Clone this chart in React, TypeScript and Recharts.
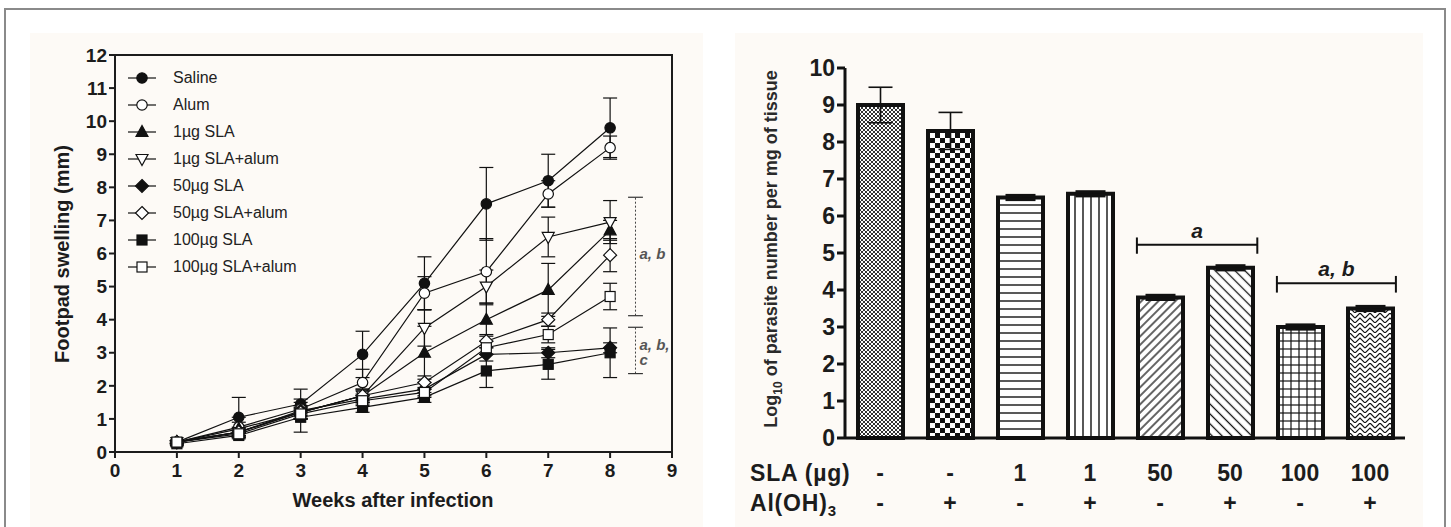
import React from 'react'
import {
  LineChart,
  Line,
  BarChart,
  Bar,
  XAxis,
  YAxis,
  ErrorBar,
  ReferenceArea,
  ReferenceLine,
  ReferenceDot,
  Cell,
} from 'recharts'

// Left panel: footpad swelling (mm) per week
const weeks = [1, 2, 3, 4, 5, 6, 7, 8]
const saline = [0.3, 1.05, 1.45, 2.95, 5.1, 7.5, 8.2, 9.8]
const salineErr = [0.05, 0.6, 0.45, 0.7, 0.8, 1.1, 0.8, 0.9]
const alum = [0.3, 0.75, 1.3, 2.1, 4.8, 5.45, 7.8, 9.2]
const alumErr = [0.05, 0.3, 0.3, 0.4, 0.5, 1.0, 0.4, 0.35]
const sla1 = [0.3, 0.7, 1.2, 1.7, 3.0, 4.0, 4.9, 6.7]
const sla1Err = [0.05, 0.2, 0.2, 0.2, 0.8, 0.5, 0.8, 0.3]
const sla1Alum = [0.3, 0.6, 1.2, 1.7, 3.75, 5.0, 6.5, 6.95]
const sla1AlumErr = [0.05, 0.15, 0.2, 0.2, 0.55, 0.5, 0.6, 0.65]
const sla50 = [0.3, 0.6, 1.25, 1.6, 1.9, 2.95, 3.0, 3.15]
const sla50Err = [0.05, 0.1, 0.1, 0.15, 0.2, 0.2, 0.15, 0.15]
const sla50Alum = [0.3, 0.6, 1.2, 1.7, 2.1, 3.35, 4.0, 5.95]
const sla50AlumErr = [0.05, 0.1, 0.1, 0.15, 0.2, 0.2, 0.2, 0.5]
const sla100 = [0.25, 0.5, 1.05, 1.35, 1.65, 2.45, 2.65, 3.0]
const sla100Err = [0.05, 0.1, 0.45, 0.15, 0.15, 0.5, 0.45, 0.75]
const sla100Alum = [0.3, 0.55, 1.15, 1.55, 1.8, 3.15, 3.55, 4.7]
const sla100AlumErr = [0.05, 0.1, 0.15, 0.15, 0.15, 0.2, 0.25, 0.4]

const weekTicks = [0, 1, 2, 3, 4, 5, 6, 7, 8, 9]
const swellingTicks = [0, 1, 2, 3, 4, 5, 6, 7, 8, 9, 10, 11, 12]

// significance brackets on the left panel (x = 8.41)
const sigX = 8.41
const sigBrackets = [
  { low: 4.12, high: 7.7 },
  { low: 2.37, high: 3.77 },
]
const sigLabels = [
  { y: 6.0, text: 'a, b' },
  { y: 3.25, text: 'a, b,' },
  { y: 2.78, text: 'c' },
]

// Right panel: parasite load
const slaDose = ['-', '-', '1', '1', '50', '50', '100', '100']
const alumFlag = ['-', '+', '-', '+', '-', '+', '-', '+']
const parasiteLog = [9.0, 8.3, 6.5, 6.6, 3.8, 4.6, 3.0, 3.5]
const parasiteErrBig = [0.48, 0.5, null, null, null, null, null, null]
const parasiteErrSmall = [null, null, 0.05, 0.05, 0.05, 0.05, 0.05, 0.05]
const parasiteTicks = [0, 1, 2, 3, 4, 5, 6, 7, 8, 9, 10]
const barBrackets = [
  { from: 4.17, to: 5.89, y: 5.22, capLow: 4.98, capHigh: 5.42, label: 'a' },
  { from: 6.17, to: 7.87, y: 4.18, capLow: 3.93, capHigh: 4.38, label: 'a, b' },
]

const FONT = '"Liberation Sans", Arial, sans-serif'
const INK = '#1c1c1c'

const series = [
  { key: 'saline', name: 'Saline', values: saline, errors: salineErr, shape: 'circle', filled: true },
  { key: 'alum', name: 'Alum', values: alum, errors: alumErr, shape: 'circle', filled: false },
  { key: 'sla1', name: '1µg SLA', values: sla1, errors: sla1Err, shape: 'up', filled: true },
  { key: 'sla1Alum', name: '1µg SLA+alum', values: sla1Alum, errors: sla1AlumErr, shape: 'down', filled: false },
  { key: 'sla50', name: '50µg SLA', values: sla50, errors: sla50Err, shape: 'diamond', filled: true },
  { key: 'sla50Alum', name: '50µg SLA+alum', values: sla50Alum, errors: sla50AlumErr, shape: 'diamond', filled: false },
  { key: 'sla100', name: '100µg SLA', values: sla100, errors: sla100Err, shape: 'square', filled: true },
  { key: 'sla100Alum', name: '100µg SLA+alum', values: sla100Alum, errors: sla100AlumErr, shape: 'square', filled: false },
]

const swellingData = weeks.map((week, i) => {
  const row: Record<string, number> = { week }
  series.forEach((s) => {
    row[s.key] = s.values[i]
    row[s.key + 'Err'] = s.errors[i]
  })
  return row
})

const parasiteData = parasiteLog.map((value, i) => ({
  id: i,
  pos: i + 0.5,
  value,
  errBig: parasiteErrBig[i],
  errSmall: parasiteErrSmall[i],
}))

function Marker({ cx, cy, shape, filled }: { cx: number; cy: number; shape: string; filled: boolean }) {
  const fill = filled ? '#111' : '#fff'
  const common = { fill, stroke: '#111', strokeWidth: 1.2 }
  if (shape === 'circle') return <circle cx={cx} cy={cy} r={5.2} {...common} />
  if (shape === 'square') return <rect x={cx - 5} y={cy - 5} width={10} height={10} {...common} />
  if (shape === 'up')
    return <polygon points={`${cx},${cy - 6.5} ${cx - 6},${cy + 4.5} ${cx + 6},${cy + 4.5}`} {...common} />
  if (shape === 'down')
    return <polygon points={`${cx - 6},${cy - 4.5} ${cx + 6},${cy - 4.5} ${cx},${cy + 6.5}`} {...common} />
  return <polygon points={`${cx},${cy - 6.5} ${cx + 6.5},${cy} ${cx},${cy + 6.5} ${cx - 6.5},${cy}`} {...common} />
}

function SwellingLegend() {
  return (
    <div style={{ position: 'absolute', left: 98, top: 31, fontFamily: FONT, fontSize: 16, color: '#222' }}>
      {series.map((s) => (
        <div key={s.key} style={{ display: 'flex', alignItems: 'center', height: 27 }}>
          <svg width={28} height={16} style={{ marginRight: 17 }}>
            <line x1={0} y1={8} x2={28} y2={8} stroke="#111" strokeWidth={1.2} />
            <Marker cx={14} cy={8} shape={s.shape} filled={s.filled} />
          </svg>
          <span>{s.name}</span>
        </div>
      ))}
    </div>
  )
}

function SwellingChart() {
  const tickStyle = { fontFamily: FONT, fontSize: 19, fontWeight: 700, fill: INK }
  return (
    <LineChart
      width={673}
      height={494}
      data={swellingData}
      margin={{ top: 22, right: 31, bottom: 35, left: 45 }}
    >
      <XAxis
        dataKey="week"
        type="number"
        domain={[0, 9]}
        ticks={weekTicks}
        height={40}
        tickSize={6}
        tickMargin={6}
        stroke={INK}
        strokeWidth={2}
        tick={tickStyle}
      />
      <YAxis
        type="number"
        domain={[0, 12]}
        ticks={swellingTicks}
        width={40}
        tickSize={6}
        tickMargin={2}
        stroke={INK}
        strokeWidth={2}
        tick={tickStyle}
      />
      <ReferenceArea x1={0} x2={9} y1={0} y2={12} fill="none" stroke={INK} strokeWidth={2} />
      {sigBrackets.map((b, i) => (
        <ReferenceLine
          key={`sl${i}`}
          segment={[{ x: sigX, y: b.low }, { x: sigX, y: b.high }]}
          stroke="#444"
          strokeDasharray="2 2"
        />
      ))}
      {sigBrackets.flatMap((b, i) =>
        [b.low, b.high].map((y, j) => (
          <ReferenceLine
            key={`sc${i}${j}`}
            segment={[{ x: sigX - 0.12, y }, { x: sigX + 0.12, y }]}
            stroke="#333"
            strokeWidth={1.2}
          />
        ))
      )}
      {sigLabels.map((l, i) => (
        <ReferenceDot
          key={`lab${i}`}
          x={sigX}
          y={l.y}
          r={1}
          fill="none"
          stroke="none"
          label={{
            value: l.text,
            position: 'right',
            offset: 3,
            style: { fontFamily: FONT, fontSize: 15, fontStyle: 'italic', fontWeight: 700, fill: '#555' },
          }}
        />
      ))}
      {series.map((s) => (
        <Line
          key={s.key}
          dataKey={s.key}
          stroke="#111"
          strokeWidth={1.2}
          isAnimationActive={false}
          dot={(p: any) => (
            <Marker key={`${s.key}-${p.index}`} cx={p.cx} cy={p.cy} shape={s.shape} filled={s.filled} />
          )}
          activeDot={false}
        >
          <ErrorBar dataKey={s.key + 'Err'} width={7} stroke="#111" strokeWidth={1.2} direction="y" />
        </Line>
      ))}
    </LineChart>
  )
}

function BarTick({ x, y, payload }: any) {
  const i = payload.index
  const style = { fontFamily: FONT, fontSize: 23, fontWeight: 700, fill: INK }
  return (
    <g>
      <text x={x} y={y + 35} textAnchor="middle" dominantBaseline="central" style={style}>
        {slaDose[i]}
      </text>
      <text x={x} y={y + 65} textAnchor="middle" dominantBaseline="central" style={style}>
        {alumFlag[i]}
      </text>
    </g>
  )
}

function ParasiteChart() {
  const tickStyle = { fontFamily: FONT, fontSize: 23, fontWeight: 700, fill: INK }
  const textStyle = { fontFamily: FONT, fontSize: 21, fontStyle: 'italic', fontWeight: 700, fill: INK }
  return (
    <BarChart
      width={688}
      height={494}
      data={parasiteData}
      margin={{ top: 35, right: 18, bottom: 9, left: 70 }}
    >
      <defs>
        <pattern id="p1" width={4} height={4} patternUnits="userSpaceOnUse">
          <rect width={4} height={4} fill="#fff" />
          <rect width={2} height={2} fill="#333" />
          <rect x={2} y={2} width={2} height={2} fill="#333" />
        </pattern>
        <pattern id="p2" width={10} height={10} patternUnits="userSpaceOnUse">
          <rect width={10} height={10} fill="#fff" />
          <rect width={5} height={5} fill="#111" />
          <rect x={5} y={5} width={5} height={5} fill="#111" />
        </pattern>
        <pattern id="p3" width={8} height={8} patternUnits="userSpaceOnUse">
          <rect width={8} height={8} fill="#fff" />
          <line x1={0} y1={4} x2={8} y2={4} stroke="#111" strokeWidth={1.4} />
        </pattern>
        <pattern id="p4" width={8} height={8} patternUnits="userSpaceOnUse">
          <rect width={8} height={8} fill="#fff" />
          <line x1={4} y1={0} x2={4} y2={8} stroke="#111" strokeWidth={1.4} />
        </pattern>
        <pattern id="p5" width={6} height={6} patternUnits="userSpaceOnUse" patternTransform="rotate(45)">
          <rect width={6} height={6} fill="#fff" />
          <line x1={3} y1={0} x2={3} y2={6} stroke="#111" strokeWidth={1.3} />
        </pattern>
        <pattern id="p6" width={7} height={7} patternUnits="userSpaceOnUse" patternTransform="rotate(-45)">
          <rect width={7} height={7} fill="#fff" />
          <line x1={3.5} y1={0} x2={3.5} y2={7} stroke="#111" strokeWidth={1.3} />
        </pattern>
        <pattern id="p7" width={8} height={8} patternUnits="userSpaceOnUse">
          <rect width={8} height={8} fill="#fff" />
          <line x1={4} y1={0} x2={4} y2={8} stroke="#111" strokeWidth={1.2} />
          <line x1={0} y1={4} x2={8} y2={4} stroke="#111" strokeWidth={1.2} />
        </pattern>
        <pattern id="p8" width={10} height={10} patternUnits="userSpaceOnUse">
          <rect width={10} height={10} fill="#fff" />
          <path d="M0,5 L5,0 L10,5 M0,10 L5,5 L10,10 M5,0 L10,5" stroke="#111" strokeWidth={1.2} fill="none" />
        </pattern>
      </defs>
      <XAxis
        dataKey="id"
        tickLine={false}
        tickSize={0}
        tickMargin={0}
        height={80}
        stroke="#111"
        strokeWidth={3}
        tick={<BarTick />}
        interval={0}
      />
      <XAxis
        xAxisId="top"
        dataKey="id"
        orientation="top"
        height={0}
        tick={false}
        tickLine={false}
        stroke="#111"
        strokeWidth={3}
      />
      <XAxis
        xAxisId="num"
        dataKey="pos"
        type="number"
        domain={[0, 8]}
        allowDataOverflow
        padding={{ left: 0, right: 0 }}
        hide
      />
      <YAxis
        type="number"
        domain={[0, 10]}
        ticks={parasiteTicks}
        width={40}
        tickSize={8}
        tickMargin={2}
        stroke="#111"
        strokeWidth={3}
        tick={tickStyle}
      />
      <YAxis
        yAxisId="right"
        orientation="right"
        type="number"
        domain={[0, 10]}
        width={0}
        tick={false}
        tickLine={false}
        stroke="#111"
        strokeWidth={3}
      />
      <Bar dataKey="value" barSize={45} stroke="#111" strokeWidth={4} isAnimationActive={false}>
        {parasiteData.map((d, i) => (
          <Cell key={`c${i}`} fill={`url(#p${i + 1})`} />
        ))}
        <ErrorBar dataKey="errBig" width={12} stroke="#111" strokeWidth={1.6} direction="y" />
        <ErrorBar dataKey="errSmall" width={15} stroke="#111" strokeWidth={3.5} direction="y" />
      </Bar>
      {barBrackets.map((b, i) => (
        <ReferenceLine
          key={`bl${i}`}
          xAxisId="num"
          segment={[{ x: b.from, y: b.y }, { x: b.to, y: b.y }]}
          stroke="#111"
          strokeWidth={2}
          ifOverflow="visible"
        />
      ))}
      {barBrackets.flatMap((b, i) =>
        [b.from, b.to].map((x, j) => (
          <ReferenceLine
            key={`bc${i}${j}`}
            xAxisId="num"
            segment={[{ x, y: b.capLow }, { x, y: b.capHigh }]}
            stroke="#111"
            strokeWidth={2}
            ifOverflow="visible"
          />
        ))
      )}
      {barBrackets.map((b, i) => (
        <ReferenceDot
          key={`bt${i}`}
          xAxisId="num"
          x={(b.from + b.to) / 2}
          y={b.y}
          r={1}
          fill="none"
          stroke="none"
          ifOverflow="visible"
          label={{ value: b.label, position: 'top', offset: 6, style: textStyle }}
        />
      ))}
    </BarChart>
  )
}

export default function App() {
  const panel = { position: 'absolute' as const, top: 33, height: 520, background: '#fdfaf6' }
  return (
    <div
      style={{
        position: 'fixed',
        left: 0,
        top: 0,
        width: 1451,
        height: 527,
        overflow: 'hidden',
        background: '#fff',
        fontFamily: FONT,
      }}
    >
      <div
        style={{
          position: 'absolute',
          left: 4,
          top: 8,
          width: 1442,
          height: 600,
          boxSizing: 'border-box',
          border: '2px solid #8a8a8a',
        }}
      />
      <div style={{ ...panel, left: 30, width: 673 }}>
        <SwellingChart />
        <SwellingLegend />
        <div style={{ position: 'absolute', left: 32, top: 221, width: 0, height: 0 }}>
          <div
            style={{
              position: 'absolute',
              transform: 'translate(-50%, -50%) rotate(-90deg)',
              whiteSpace: 'nowrap',
              fontSize: 20,
              fontWeight: 700,
              color: INK,
            }}
          >
            Footpad swelling (mm)
          </div>
        </div>
        <div
          style={{
            position: 'absolute',
            left: 363,
            top: 467,
            transform: 'translate(-50%, -50%)',
            whiteSpace: 'nowrap',
            fontSize: 20,
            fontWeight: 700,
            color: INK,
          }}
        >
          Weeks after infection
        </div>
      </div>
      <div style={{ ...panel, left: 735, width: 688 }}>
        <ParasiteChart />
        <div style={{ position: 'absolute', left: 38, top: 216, width: 0, height: 0 }}>
          <div
            style={{
              position: 'absolute',
              transform: 'translate(-50%, -50%) rotate(-90deg)',
              whiteSpace: 'nowrap',
              fontSize: 18,
              fontWeight: 700,
              color: '#2a2a2a',
            }}
          >
            Log<sub style={{ fontSize: 12 }}>10</sub> of parasite number per mg of tissue
          </div>
        </div>
        <div
          style={{
            position: 'absolute',
            left: 15,
            top: 425,
            fontSize: 23,
            fontWeight: 700,
            color: INK,
            lineHeight: '30px',
            whiteSpace: 'nowrap',
            letterSpacing: 0.8,
          }}
        >
          <div>SLA (µg)</div>
          <div>
            Al(OH)<sub style={{ fontSize: 15, verticalAlign: -5 }}>3</sub>
          </div>
        </div>
      </div>
    </div>
  )
}
